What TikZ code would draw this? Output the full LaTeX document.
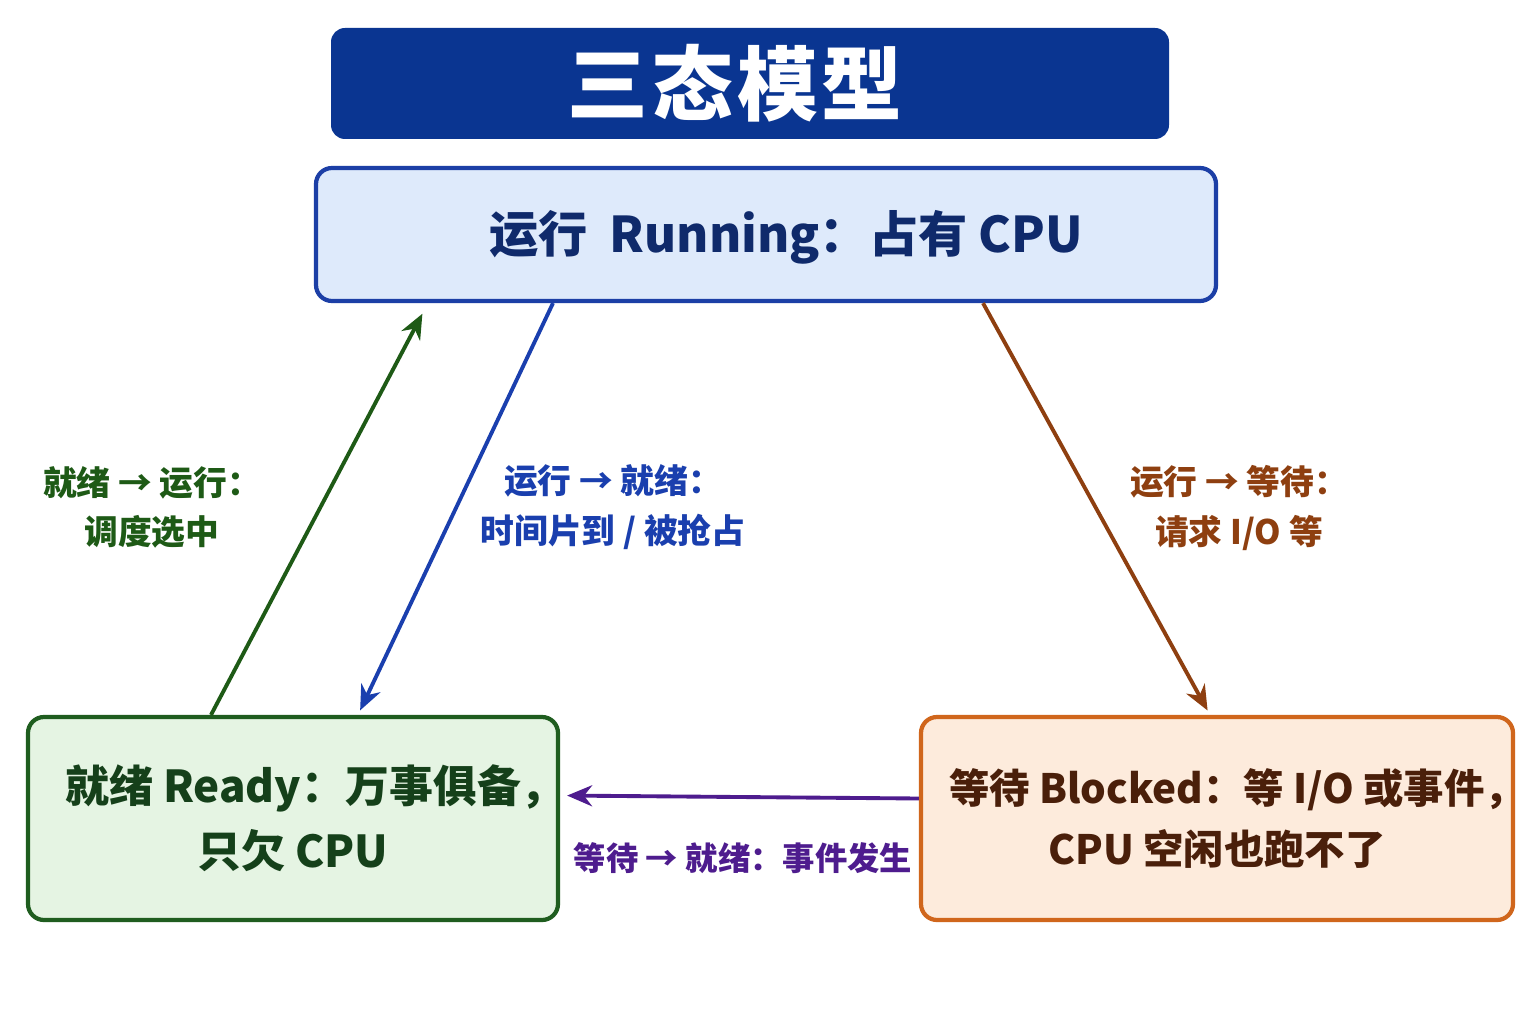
\documentclass[tikz,border=0pt]{standalone}
\usepackage{fontspec}
\setmainfont{Noto Sans CJK SC}
\usepackage{xcolor}
\usepackage{tikz}
\usetikzlibrary{arrows.meta}

\definecolor{titleblue}{HTML}{0A3591}
\definecolor{runfill}{HTML}{DEEAFB}
\definecolor{runline}{HTML}{1C3FA6}
\definecolor{runtext}{HTML}{0F2A6B}
\definecolor{readyfill}{HTML}{E5F4E3}
\definecolor{readyline}{HTML}{1F5D1F}
\definecolor{readytext}{HTML}{15401A}
\definecolor{blockfill}{HTML}{FDEBDC}
\definecolor{blockline}{HTML}{D0661C}
\definecolor{blocktext}{HTML}{4A1F0A}
\definecolor{arrgreen}{HTML}{1E5A16}
\definecolor{arrblue}{HTML}{1A3FAE}
\definecolor{arrbrown}{HTML}{8E3F10}
\definecolor{arrpurple}{HTML}{4E1C8E}

\begin{document}
\begin{tikzpicture}[font=\bfseries]
	    \tikzstyle{state}=[draw,shape=rectangle,rounded corners=0.16cm,line width=1.2pt,align=center,inner xsep=0pt]
	    \tikzstyle{trans}=[line width=1.1pt,-{Stealth[length=0.25cm,width=0.21cm]}]
	    \tikzstyle{label}=[align=center,font=\bfseries\fontsize{9.6}{14}\selectfont]

	    \fill[white] (0,0) rectangle (15.36,10.24);
	    \useasboundingbox (0,0) rectangle (15.36,10.24);

	    \node[fill=titleblue,rounded corners=0.14cm,minimum width=8.38cm,minimum height=1.11cm,text=white,font=\bfseries\fontsize{23}{26}\selectfont](title) at (7.5,9.405){三\kern0.05em 态\kern0.05em 模\kern0.05em 型\kern0.3cm};

	    \node[state,draw=runline,fill=runfill,text=runtext,minimum width=9cm,minimum height=1.33cm,text height=1.05em,text depth=0.05em,font=\bfseries\fontsize{14}{18}\selectfont](running) at (7.66,7.895){\hspace{0.4cm}运行\hspace{0.45em}Running：占有 CPU};
	    \node[state,draw=readyline,fill=readyfill,text=readytext,minimum width=5.3cm,minimum height=2.03cm,font=\bfseries\fontsize{12.5}{18.5}\selectfont](ready) at (2.93,2.055){就绪 Ready：万事俱备\rlap{，}\\只欠 CPU};
	    \node[state,draw=blockline,fill=blockfill,text=blocktext,minimum width=5.92cm,minimum height=2.03cm,font=\bfseries\fontsize{11.5}{17.6}\selectfont](blocked) at (12.17,2.055){等待 Blocked：等 I/O 或事件\rlap{，}\\CPU 空闲也跑不了};

	    \draw[trans,draw=arrgreen,fill=arrgreen,shorten >=0.12cm] ([xshift=-0.82cm]ready.north) -- ([xshift=-3.38cm]running.south);
	    \draw[trans,draw=arrblue,fill=arrblue,shorten >=0.05cm] ([xshift=-2.13cm]running.south) -- ([xshift=0.65cm]ready.north);
	    \draw[trans,draw=arrbrown,fill=arrbrown,shorten >=0.05cm] ([xshift=2.17cm]running.south) -- ([xshift=-0.07cm]blocked.north);
	    \draw[trans,draw=arrpurple,fill=arrpurple,shorten >=0.07cm] ([yshift=0.2cm]blocked.west) -- ([yshift=0.23cm]ready.east);

	    \node[label,text=arrgreen](l1) at (1.52,5.17){就绪 → 运行：\\调度选中};
	    \node[label,text=arrblue](l2) at (6.13,5.17){运行 → 就绪：\\时间片到 / 被抢占};
	    \node[label,text=arrbrown](l3) at (12.39,5.16){运行 → 等待：\\请求 I/O 等};
	    \node[label,text=arrpurple,font=\bfseries\fontsize{9.2}{14}\selectfont](l4) at (7.43,1.66){等待 → 就绪：事件发生};
	\end{tikzpicture}
\end{document}
